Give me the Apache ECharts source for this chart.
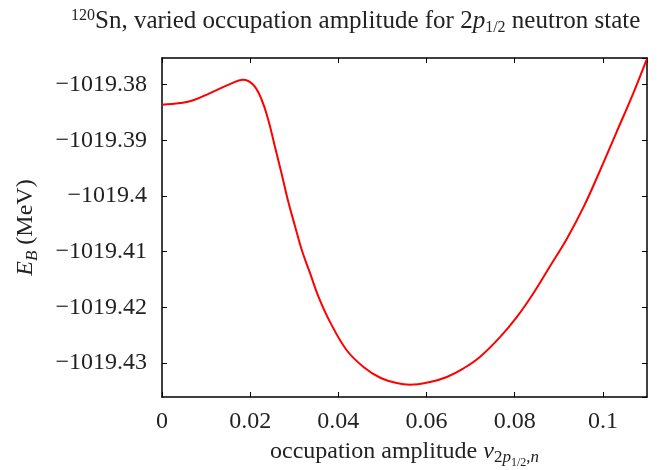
<!DOCTYPE html>
<html>
<head>
<meta charset="utf-8">
<script src="https://cdn.jsdelivr.net/npm/echarts@6/dist/echarts.min.js"></script>
<style>
  html,body{margin:0;padding:0;background:#fff;}
  #chart{width:667px;height:470px;}
</style>
</head>
<body>
<div id="chart"></div>
<script>
// occupation amplitude v (x) and binding energy E_B in MeV (y)
var amplitude = [0, 0.0041, 0.0071, 0.0109, 0.0154, 0.0183, 0.0207, 0.0226, 0.0241, 0.0256,
  0.0272, 0.0286, 0.0302, 0.0317, 0.0336, 0.0355, 0.0381, 0.0419, 0.0457, 0.0494, 0.0532,
  0.0563, 0.0608, 0.0646, 0.0683, 0.0721, 0.0767, 0.0805, 0.0842, 0.0880, 0.0918, 0.0956,
  0.0993, 0.1031, 0.1069, 0.11];
var energy = [-1019.3836, -1019.3833, -1019.3828, -1019.3815, -1019.3799, -1019.3791, -1019.3800,
  -1019.3827, -1019.3863, -1019.3911, -1019.3962, -1019.4009, -1019.4055, -1019.4097, -1019.4139,
  -1019.4181, -1019.4226, -1019.4277, -1019.4307, -1019.4326, -1019.4336, -1019.4339, -1019.4334,
  -1019.4325, -1019.4310, -1019.4289, -1019.4253, -1019.4217, -1019.4175, -1019.4126, -1019.4077,
  -1019.4020, -1019.3955, -1019.3885, -1019.3815, -1019.3753];
var xTicks = [0, 0.02, 0.04, 0.06, 0.08, 0.1];

var serif = '"Liberation Serif", serif';
var fs = 24;

var points = amplitude.map(function (v, i) { return [v, energy[i]]; });

function yLabel(v) {
  return String(Math.round(v * 100) / 100).replace('-', '\u2212');
}

var axisBase = {
  axisLine: { show: true, onZero: false, lineStyle: { color: '#000', width: 1.5 } },
  axisTick: { show: true, inside: true, length: 5, lineStyle: { color: '#000', width: 1 } },
  splitLine: { show: false }
};

var myChart = echarts.init(document.getElementById('chart'), null, { renderer: 'canvas' });
myChart.setOption({
  animation: false,
  backgroundColor: '#fff',
  title: {
    text: '{sup|120}{n|Sn, varied occupation amplitude for 2}{i|p}{s|1/2}{n| neutron state}',
    left: 66,
    top: 1,
    textStyle: {
      fontWeight: 'normal',
      rich: {
        n: { fontFamily: serif, fontSize: 25, fontWeight: 'normal', color: '#222', lineHeight: 30 },
        i: { fontFamily: serif, fontSize: 25, fontWeight: 'normal', fontStyle: 'italic', color: '#222', lineHeight: 30 },
        sup: { fontFamily: serif, fontSize: 16, fontWeight: 'normal', color: '#222', lineHeight: 16, verticalAlign: 'top', padding: [2, 0, 0, 0] },
        s: { fontFamily: serif, fontSize: 16, fontWeight: 'normal', color: '#222', lineHeight: 16, verticalAlign: 'bottom' }
      }
    }
  },
  grid: { left: 162, right: 20, top: 58, bottom: 73, containLabel: false, outerBoundsMode: 'none' },
  xAxis: [
    Object.assign({}, axisBase, {
      type: 'value', min: 0, max: 0.11, interval: 0.02,
      position: 'bottom',
      axisLabel: {
        fontFamily: serif, fontSize: fs, color: '#222', margin: 13, showMaxLabel: false,
        formatter: function (v) { return xTicks.indexOf(Math.round(v * 100) / 100) >= 0 ? String(Math.round(v * 100) / 100) : ''; }
      },
      name: '{n|occupation amplitude }{i|v}{s|2}{si|p}{ss|1/2}{s|,}{si|n}',
      nameLocation: 'middle',
      nameGap: 38,
      nameTextStyle: {
        rich: {
          n: { fontFamily: serif, fontSize: fs, color: '#222', lineHeight: 34 },
          i: { fontFamily: serif, fontSize: fs, fontStyle: 'italic', color: '#222', lineHeight: 34 },
          s: { fontFamily: serif, fontSize: 17, color: '#222', lineHeight: 17, verticalAlign: 'bottom', padding: [0, 0, 3, 0] },
          si: { fontFamily: serif, fontSize: 17, fontStyle: 'italic', color: '#222', lineHeight: 17, verticalAlign: 'bottom', padding: [0, 0, 3, 0] },
          ss: { fontFamily: serif, fontSize: 12, color: '#222', lineHeight: 12, verticalAlign: 'bottom' }
        }
      }
    }),
    Object.assign({}, axisBase, {
      type: 'value', min: 0, max: 0.11, interval: 0.02,
      position: 'top',
      axisLabel: { show: false }
    })
  ],
  yAxis: [
    Object.assign({}, axisBase, {
      type: 'value', min: -1019.4361, max: -1019.3752, splitNumber: 6,
      position: 'left',
      axisLabel: {
        fontFamily: serif, fontSize: fs, color: '#222', margin: 15,
        showMinLabel: false, showMaxLabel: false,
        formatter: yLabel
      },
      name: '{i|E}{s|B}{n| (MeV)}',
      nameLocation: 'middle',
      nameRotate: 90,
      nameGap: 121,
      nameTextStyle: {
        rich: {
          n: { fontFamily: serif, fontSize: fs, color: '#222', lineHeight: 30 },
          i: { fontFamily: serif, fontSize: fs, fontStyle: 'italic', color: '#222', lineHeight: 30 },
          s: { fontFamily: serif, fontSize: 17, fontStyle: 'italic', color: '#222', lineHeight: 17, verticalAlign: 'bottom' }
        }
      }
    }),
    Object.assign({}, axisBase, {
      type: 'value', min: -1019.4361, max: -1019.3752, splitNumber: 6,
      position: 'right',
      axisLabel: { show: false }
    })
  ],
  series: [{
    type: 'line',
    data: points,
    xAxisIndex: 0,
    yAxisIndex: 0,
    showSymbol: false,
    smooth: 0.4,
    lineStyle: { color: '#ff0000', width: 2 },
    itemStyle: { color: '#ff0000' }
  }]
});
</script>
</body>
</html>
